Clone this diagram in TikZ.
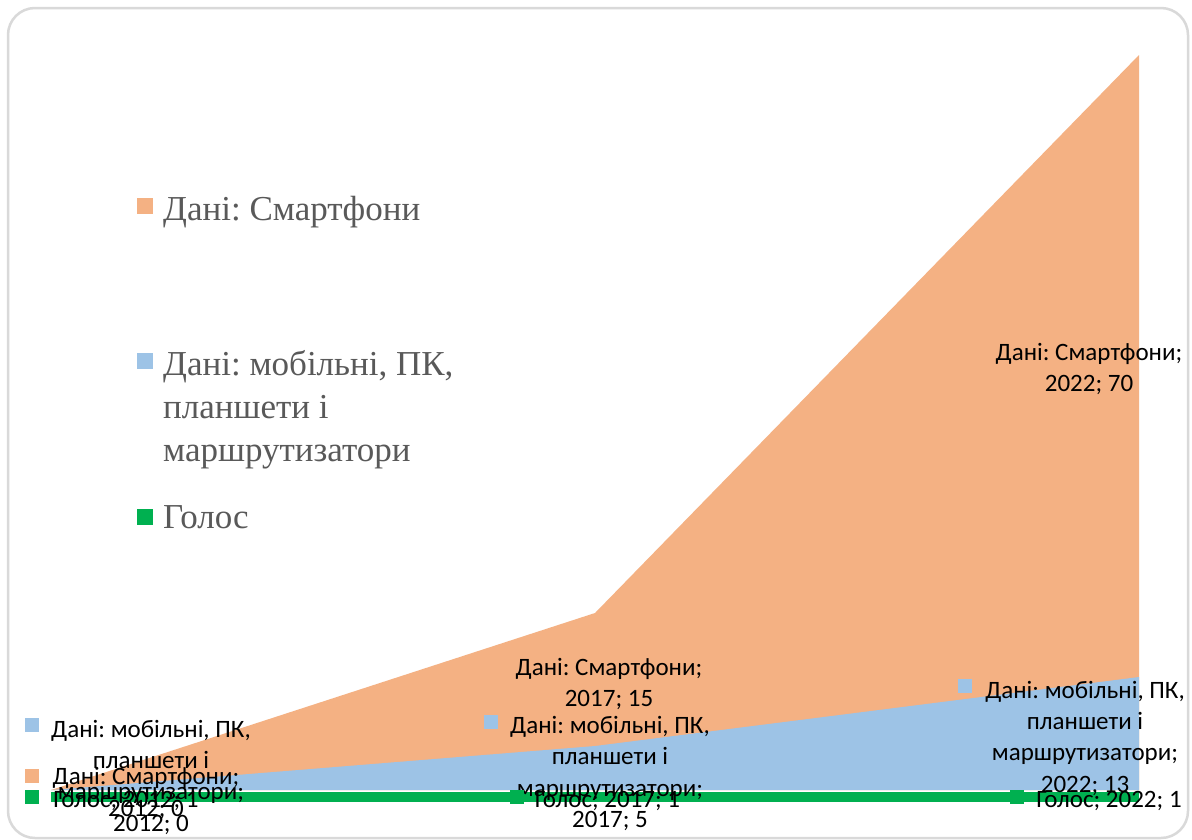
\documentclass[tikz,border=0pt]{standalone}
\usepackage{fontspec}
\setmainfont{Liberation Serif}
\newfontfamily\lblfont{Carlito}
\definecolor{orangeA}{HTML}{F4B183}
\definecolor{blueA}{HTML}{9DC3E6}
\definecolor{greenA}{HTML}{00B050}
\definecolor{legtext}{HTML}{595959}
\definecolor{framegray}{HTML}{D9D9D9}
\frenchspacing
\begin{document}
\begin{tikzpicture}[x=1pt,y=-1pt,
  lbl/.style={font=\lblfont\fontsize{25}{31.3}\selectfont, align=center, inner sep=0pt, anchor=base, text=black},
  leg/.style={font=\fontsize{35}{43}\selectfont, align=left, inner sep=0pt, anchor=base west, text=legtext},
  keybox/.style={minimum size=14pt, inner sep=0pt, fill=#1},
  legkey/.style={minimum size=16pt, inner sep=0pt, fill=#1}]
\useasboundingbox (0,0) rectangle (1192,839);
\fill[white] (0,0) rectangle (1192,839);
\draw[framegray, line width=2.5pt, rounded corners=27pt] (8,8) rectangle (1188,838);
% areas
\coordinate (o12) at (51,790);
\coordinate (o17) at (595,613);
\coordinate (o22) at (1139,55);
\coordinate (b17) at (595,746);
\coordinate (b22) at (1139,677);
\coordinate (base22) at (1139,790);
\fill[orangeA] (o12) -- (o17) -- (o22) -- (base22) -- cycle;
\fill[blueA] (o12) -- (b17) -- (b22) -- (base22) -- cycle;
\coordinate (g12a) at (51,792);
\coordinate (g22b) at (1139,802);
\fill[greenA] (g12a) rectangle (g22b);
% legend (anchor = baseline of last line)
\node[legkey=orangeA] (lk1) at (145,205.5) {};
\node[legkey=blueA] (lk2) at (145,361) {};
\node[legkey=greenA] (lk3) at (145,516.5) {};
\node[leg] (lt1) at (163,220) {Дані: Смартфони};
\node[leg] (lt2) at (163,461) {Дані: мобільні, ПК,\\планшети і\\маршрутизатори};
\node[leg] (lt3) at (163,528) {Голос};
% data labels 2012
\node[keybox=blueA] (ka) at (32,725) {};
\node[lbl] (la) at (151,831) {Дані: мобільні, ПК,\\планшети і\\маршрутизатори;\\2012; 0};
\node[keybox=orangeA] (kb) at (32,775.5) {};
\node[lbl] (lb) at (146,816) {Дані: Смартфони;\\2012; 0};
\node[keybox=greenA] (kc) at (32,797) {};
\node[lbl] (lc) at (126,807) {Голос; 2012; 1};
% data labels 2017
\node[lbl] (ld) at (609,706.5) {Дані: Смартфони;\\2017; 15};
\node[keybox=blueA] (ke) at (490.5,721.5) {};
\node[lbl] (le) at (610,827.5) {Дані: мобільні, ПК,\\планшети і\\маршрутизатори;\\2017; 5};
\node[keybox=greenA] (kf) at (516.5,796.5) {};
\node[lbl] (lf) at (607.5,807) {Голос; 2017; 1};
% data labels 2022
\node[lbl] (lg) at (1089,391.5) {Дані: Смартфони;\\2022; 70};
\node[keybox=blueA] (kh) at (964.5,686) {};
\node[lbl] (lh) at (1085,792) {Дані: мобільні, ПК,\\планшети і\\маршрутизатори;\\2022; 13};
\node[keybox=greenA] (ki) at (1016.5,796.5) {};
\node[lbl] (li) at (1109,807) {Голос; 2022; 1};
\end{tikzpicture}
\end{document}
